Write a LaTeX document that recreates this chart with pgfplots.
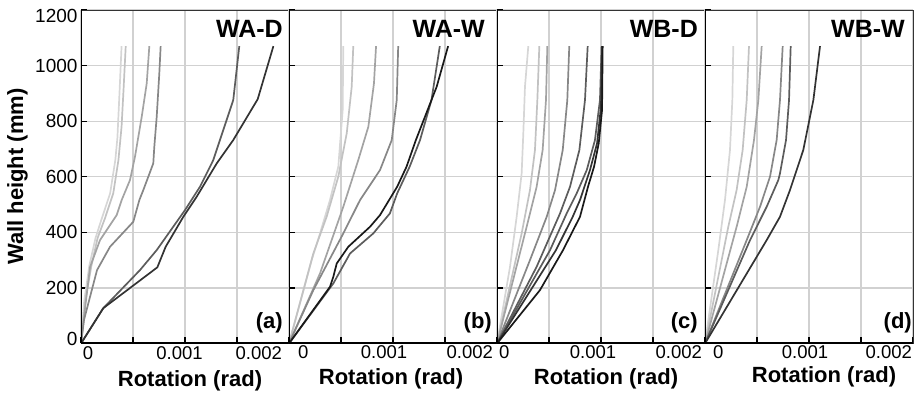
\documentclass[border=0pt]{standalone}
\usepackage{pgfplots}
\pgfplotsset{compat=1.18}
\usepackage{fontspec}
\setmainfont{Liberation Sans}
\definecolor{g1}{gray}{0.84}
\definecolor{g2}{gray}{0.76}
\definecolor{g3}{gray}{0.64}
\definecolor{g4}{gray}{0.53}
\definecolor{g5}{gray}{0.36}
\definecolor{g6}{gray}{0.2}
\definecolor{g7}{gray}{0.1}
\pgfplotsset{
 panel/.style={
  scale only axis, width=208pt, height=333.5pt, anchor=south west,
  xmin=0, xmax=0.002, ymin=0, ymax=1200,
  xtick={0,0.0005,0.001,0.0015,0.002},
  ytick={0,200,400,600,800,1000,1200},
  scaled x ticks=false,
  yticklabels={},
  grid=major,
  major grid style={draw=black!18, line width=1.2pt},
  axis line style={draw=black!80, line width=0.8pt},
  tick pos=left, tick align=inside, major tick length=6pt,
  major tick style={black, line width=1.3pt},
  xticklabel style={inner sep=0pt, anchor=north, yshift=-2pt, font=\fontsize{18.5}{22}\selectfont},
  yticklabel style={font=\fontsize{19}{22}\selectfont},
  xlabel={Rotation (rad)},
  every axis x label/.style={at={(rel axis cs:0.5,0)}, anchor=base, yshift=-41pt, font=\fontsize{22}{26}\selectfont\bfseries},
  no marks, every axis plot/.append style={line width=1.7pt, line join=round},
 },
}
\tikzset{
 ttl/.style={anchor=north east, inner sep=0pt, font=\fontsize{25}{30}\selectfont\bfseries},
 lett/.style={anchor=south east, inner sep=0pt, font=\fontsize{22}{26}\selectfont\bfseries},
}
\newcommand{\frameaxes}{\draw[black, line width=2pt] (rel axis cs:0,1) -- (rel axis cs:0,0) -- (rel axis cs:1,0);}
\begin{document}
\begin{tikzpicture}
\path[use as bounding box] (0pt,0pt) rectangle (916pt,395pt);
% ---------------- (a) WA-D
\begin{axis}[panel, at={(81pt,51.5pt)},
  xticklabels={\makebox[0pt][l]{\hspace{2pt}0},{},\makebox[0pt]{0.001\hspace{11pt}},{},\makebox[0pt][r]{0.002\hspace{7pt}}},
  xticklabel style={yshift=-1pt},
  yticklabels={\raisebox{5pt}[\height][\depth]{0},200,400,600,800,1000,\raisebox{-6pt}[\height][\depth]{1200}},
  ylabel={Wall height (mm)},
  every axis y label/.style={at={(rel axis cs:0,0.5)}, xshift=-63.5pt, rotate=90, anchor=center, font=\fontsize{22}{26}\selectfont\bfseries},
  xlabel style={xshift=5pt, yshift=-2pt}]
\addplot[g1] coordinates {(0,0) (0.00003,150) (0.00008,280) (0.00014,380) (0.0002,450) (0.00028,540) (0.00033,660) (0.00035,740) (0.00037,900) (0.00039,1070)};
\addplot[g2] coordinates {(0,0) (0.00004,150) (0.0001,280) (0.00016,380) (0.00023,450) (0.00031,540) (0.00036,660) (0.00039,780) (0.00041,920) (0.00043,1070)};
\addplot[g3] coordinates {(0,0) (0.00004,130) (0.000087,275) (0.000183,372) (0.000343,462) (0.000391,516) (0.000471,588) (0.000519,672) (0.000584,816) (0.000632,936) (0.000657,1070)};
\addplot[g4] coordinates {(0,0) (0.000029,85) (0.000154,264) (0.000279,348) (0.000503,438) (0.000561,516) (0.000599,552) (0.000695,648) (0.000705,708) (0.000728,816) (0.000753,972) (0.000766,1070)};
\addplot[g5] coordinates {(0,0) (0.000214,127) (0.000567,264) (0.000728,336) (0.001,480) (0.001144,564) (0.001272,660) (0.001464,876) (0.001522,1070)};
\addplot[g6] coordinates {(0,0) (0.000214,127) (0.000734,274) (0.000814,348) (0.000984,456) (0.001112,528) (0.001305,648) (0.001464,732) (0.001699,879) (0.00185,1070)};
\frameaxes
\node[ttl, xshift=-6pt, yshift=-10pt] at (rel axis cs:1,1) {WA-D};
\node[lett, xshift=-6pt, yshift=10pt] at (rel axis cs:1,0) {(a)};
\end{axis}
% ---------------- (b) WA-W
\begin{axis}[panel, at={(289pt,51.5pt)},
  xticklabels={\makebox[0pt][l]{\hspace{9pt}0},{},\makebox[0pt]{0.001\hspace{18pt}},{},\makebox[0pt][r]{0.002\hspace{4pt}}},
  xlabel style={xshift=-2pt}]
\addplot[g1] coordinates {(0,0) (0.000218,300) (0.000298,396) (0.000394,516) (0.000474,636) (0.000516,840) (0.000522,1070)};
\addplot[g2] coordinates {(0,0) (0.000234,324) (0.000362,456) (0.000474,600) (0.000555,756) (0.000603,924) (0.000618,1070)};
\addplot[g3] coordinates {(0,0) (0.000298,252) (0.000522,492) (0.000666,660) (0.000763,780) (0.000817,936) (0.000837,1070)};
\addplot[g4] coordinates {(0,0) (0.000234,192) (0.000522,396) (0.000683,516) (0.000875,624) (0.000988,732) (0.001036,876) (0.00105,1070)};
\addplot[g5] coordinates {(0,0) (0.000426,216) (0.000587,324) (0.00081,396) (0.00097,468) (0.00104,540) (0.00116,636) (0.00126,732) (0.00137,876) (0.00145,1070)};
\addplot[g7] coordinates {(0,0) (0.000394,204) (0.000426,240) (0.000459,288) (0.00057,348) (0.000779,420) (0.000875,462) (0.00104,564) (0.00113,636) (0.00122,732) (0.00142,924) (0.00153,1070)};
\frameaxes
\node[ttl, xshift=-12pt, yshift=-10pt] at (rel axis cs:1,1) {WA-W};
\node[lett, xshift=-5pt, yshift=10pt] at (rel axis cs:1,0) {(b)};
\end{axis}
% ---------------- (c) WB-D
\begin{axis}[panel, at={(497pt,51.5pt)},
  xticklabels={\makebox[0pt][l]{\hspace{2pt}0},{},\makebox[0pt]{0.001\hspace{16pt}},{},\makebox[0pt][r]{0.002\hspace{3pt}}},
  xlabel style={xshift=5pt}]
\addplot[g1] coordinates {(0,0) (0.000125,276) (0.000189,456) (0.000237,612) (0.000253,756) (0.000269,924) (0.000301,1070)};
\addplot[g2] coordinates {(0,0) (0.000237,396) (0.000317,552) (0.000365,696) (0.000388,876) (0.000407,1070)};
\addplot[g3] coordinates {(0,0) (0.000285,420) (0.000381,564) (0.000439,696) (0.000471,876) (0.000484,1070)};
\addplot[g4] coordinates {(0,0) (0.000317,300) (0.000478,456) (0.000558,552) (0.000632,696) (0.000676,876) (0.000695,1070)};
\addplot[g5] coordinates {(0,0) (0.000381,276) (0.000606,468) (0.000702,564) (0.000792,696) (0.000846,876) (0.000872,1070)};
\addplot[g5] coordinates {(0,0) (0.00051,336) (0.00067,468) (0.000766,540) (0.000863,624) (0.000942,732) (0.00099,876) (0.001006,1070)};
\addplot[g6] coordinates {(0,0) (0.000567,336) (0.000728,456) (0.000798,516) (0.000894,624) (0.000962,720) (0.001,852) (0.00101,1070)};
\addplot[g7] coordinates {(0,0) (0.000413,192) (0.000635,336) (0.000798,456) (0.000875,564) (0.000933,636) (0.000978,720) (0.00101,840) (0.001016,1070)};
\frameaxes
\node[ttl, xshift=-7pt, yshift=-10pt] at (rel axis cs:1,1) {WB-D};
\node[lett, xshift=-7pt, yshift=10pt] at (rel axis cs:1,0) {(c)};
\end{axis}
% ---------------- (d) WB-W
\begin{axis}[panel, at={(705pt,51.5pt)},
  xticklabels={\makebox[0pt][l]{\hspace{8pt}0},{},\makebox[0pt]{0.001\hspace{8pt}},{},\makebox[0pt][r]{0.002\hspace{1pt}}},
  xlabel style={xshift=15pt, yshift=2pt}]
\addplot[g1] coordinates {(0,0) (0.000128,336) (0.000192,516) (0.00024,696) (0.000263,876) (0.000272,1070)};
\addplot[g2] coordinates {(0,0) (0.000224,420) (0.000304,552) (0.000362,696) (0.000401,876) (0.000423,1070)};
\addplot[g3] coordinates {(0,0) (0.000304,420) (0.000401,564) (0.000471,732) (0.000513,876) (0.000545,1070)};
\addplot[g4] coordinates {(0,0) (0.000401,372) (0.000529,492) (0.000625,600) (0.000689,732) (0.000721,876) (0.000747,1070)};
\addplot[g5] coordinates {(0,0) (0.000433,372) (0.000593,492) (0.000705,588) (0.000721,612) (0.000779,732) (0.000808,876) (0.000824,1070)};
\addplot[g6] coordinates {(0,0) (0.000593,372) (0.000721,456) (0.000817,552) (0.000945,696) (0.001042,876) (0.001106,1070)};
\frameaxes
\node[ttl, xshift=-8pt, yshift=-10pt] at (rel axis cs:1,1) {WB-W};
\node[lett, xshift=-1pt, yshift=10pt] at (rel axis cs:1,0) {(d)};
\end{axis}
\end{tikzpicture}
\end{document}
